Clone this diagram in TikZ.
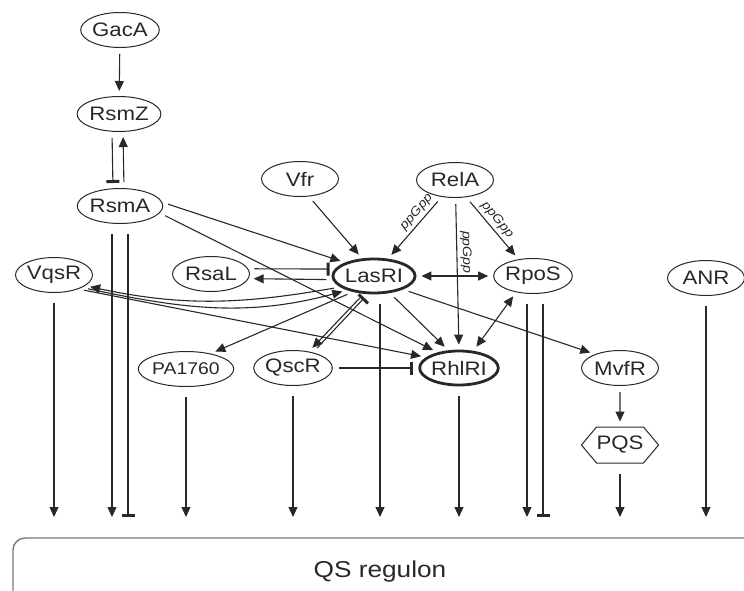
\documentclass[tikz,border=0pt]{standalone}
\usepackage{fontspec}
\setmainfont{Liberation Sans}[FakeStretch=1.14]
\usetikzlibrary{shapes.geometric,shapes.symbols,arrows.meta}
\definecolor{qsink}{RGB}{40,40,40}
\definecolor{qsgrey}{RGB}{120,120,120}
\newcommand\genefont{\fontsize{19.5}{19.5}\selectfont}
\newcommand\smallgenefont{\fontsize{17}{17}\selectfont}
\newcommand\ppgfont{\fontsize{12.5}{12.5}\selectfont\itshape}
\newcommand\regfont{\fontsize{23}{23}\selectfont}

\begin{document}
\begin{tikzpicture}[x=1pt, y=-1pt, line width=1.1pt, color=qsink, every node/.style={font=\genefont}]
  \tikzset{
    gene/.style={ellipse, draw, line width=1pt, minimum width=77pt, minimum height=35pt, inner sep=0pt},
    hub/.style={gene, line width=2.8pt, minimum width=76pt, minimum height=34pt},
    act/.style={-{Triangle[length=10pt,width=9pt]}, shorten <=6pt, shorten >=5pt},
    inh/.style={-{Bar[width=13pt,line width=3pt]}, shorten <=6pt, shorten >=5pt},
    dual/.style={{Triangle[length=10pt,width=9pt]}-{Triangle[length=10pt,width=9pt]}, shorten <=5pt, shorten >=5pt},
    toreg/.style={shorten <=10pt, shorten >=0pt},
    ppg/.style={font=\ppgfont, sloped, above, inner sep=3pt}
  }
  \useasboundingbox (0,0) rectangle (744,590);

  % regulators
  \node[gene] (GacA) at (120,30) {GacA};
  \node[gene] (RsmZ) at (119,114) {RsmZ};
  \node[gene] (RsmA) at (120,206) {RsmA};
  \node[gene] (Vfr) at (300,179) {Vfr};
  \node[gene] (RelA) at (455,180) {RelA};
  \node[gene] (VqsR) at (54,275) {VqsR};
  \node[gene] (RsaL) at (211,274) {RsaL};
  \node[hub] (LasRI) at (374,276) {LasRI};
  \node[gene] (RpoS) at (533,276) {RpoS};
  \node[gene] (ANR) at (706,278) {ANR};
  \node[gene, font=\smallgenefont] (PA1760) at (186,369) {PA1760};
  \node[gene] (QscR) at (293,368) {QscR};
  \node[hub] (RhlRI) at (459,368) {RhlRI};
  \node[gene] (MvfR) at (620,368) {MvfR};
  \node[signal, signal to=west and east, signal pointer angle=100, draw, line width=1pt,
        minimum width=76pt, minimum height=36pt, inner sep=0pt] (PQS) at (620,445) {PQS};

  % Gac/Rsm cascade
  \draw[act] (GacA) -- (RsmZ);
  \draw[inh] ([xshift=-7pt]RsmZ.south) -- ([xshift=-7pt]RsmA.north);
  \draw[act] ([xshift=4pt]RsmA.north) -- ([xshift=4pt]RsmZ.south);
  \draw[act] (RsmA.5) -- (LasRI.155);
  \draw[act] (RsmA.-10) -- (RhlRI.144);

  % inputs into las
  \draw[act] (Vfr.-63) -- (LasRI.124);
  \draw[act] (RelA.232) -- (LasRI.51) node[ppg, pos=0.34] {ppGpp};
  \draw[act] (RelA.-88) -- (RhlRI.north) node[ppg, pos=0.36] {ppGpp};
  \draw[act] (RelA.-57) -- (RpoS.131) node[ppg, pos=0.46] {ppGpp};
  \draw[dual] (LasRI) -- (RpoS);
  \draw[dual] (RpoS.224) -- (RhlRI.50);

  % las outputs and feedback
  \draw[inh] (RsaL.8) -- (LasRI.170);
  \draw[act] (LasRI.185) -- (RsaL.-7);
  \draw[act] (LasRI.198) to[out=190, in=-12] (VqsR.-19);
  \draw[act] (VqsR.-24) to[out=-12, in=195] (LasRI.208);
  \draw[act] (VqsR.-30) -- (RhlRI.162);
  \draw[act] (LasRI.217) -- (PA1760.32);
  \draw[act] (LasRI.240) -- (QscR.46);
  \draw[inh] (QscR.38) -- (LasRI.251);
  \draw[inh] (QscR) -- (RhlRI);
  \draw[act] (LasRI.-47) -- (RhlRI.121);
  \draw[act] (LasRI.-25) -- (MvfR.151);
  \draw[act] (MvfR) -- (PQS);

  % everything feeds the regulon
  \coordinate (regtop) at (0,517);
  \foreach \n/\dx/\k in {VqsR/0/act, RsmA/-8/act, RsmA/8/inh, PA1760/0/act, QscR/0/act,
                         LasRI/6/act, RhlRI/0/act, RpoS/-6/act, RpoS/10/inh, PQS/0/act, ANR/0/act}
    \draw[\k, toreg] ([xshift=\dx pt]\n.south) -- ([xshift=\dx pt]\n.south |- regtop);

  \draw[qsgrey, line width=1.4pt, rounded corners=12pt] (13,620) |- (780,538);
  \node[font=\regfont] (regulon) at (380,572) {QS regulon};
\end{tikzpicture}
\end{document}
